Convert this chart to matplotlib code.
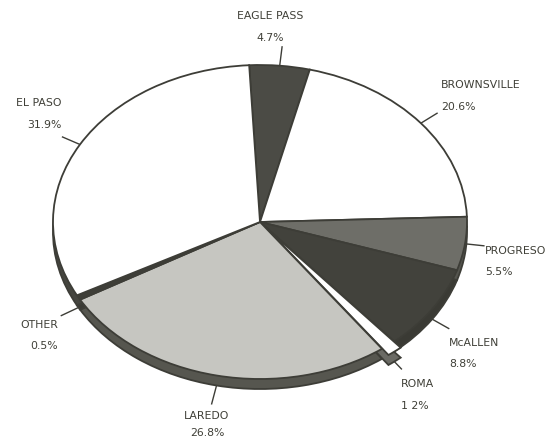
import numpy as np
import matplotlib
matplotlib.use("Agg")
import matplotlib.pyplot as plt

ports = ["EAGLE PASS", "BROWNSVILLE", "PROGRESO", "McALLEN", "ROMA",
         "LAREDO", "OTHER", "EL PASO"]
shares = [4.7, 20.6, 5.5, 8.8, 1.2, 26.8, 0.5, 31.9]
pct_labels = ["4.7%", "20.6%", "5.5%", "8.8%", "1 2%", "26.8%", "0.5%", "31.9%"]

top_colors = ["#4b4b45", "#ffffff", "#6e6e68", "#42423c", "#ffffff",
              "#c6c6c1", "#3e3e38", "#ffffff"]
side_colors = ["#3e3e38", "#4a4a44", "#55554f", "#3a3a34", "#6a6a64",
               "#56564f", "#3a3a34", "#45453f"]
explode = [0, 0, 0, 0, 0.05, 0, 0, 0]

# label layout in figure pixels (x, y name, y pct, alignment)
label_pos = {
    "EAGLE PASS": (270, 16, 38, "center"),
    "BROWNSVILLE": (441, 85, 107, "left"),
    "PROGRESO": (485, 251, 272, "left"),
    "McALLEN": (449, 343, 364, "left"),
    "ROMA": (401, 384, 406, "left"),
    "LAREDO": (207, 416, 433, "center"),
    "OTHER": (58, 325, 346, "right"),
    "EL PASO": (62, 103, 125, "right"),
}

W, H = 554, 440
cx, cy, rx, ry = 260, 222, 207, 157
depth = 10 / ry
edge = "#3d3d37"
txt = "#3f3f37"

fig = plt.figure(figsize=(W / 100, H / 100), dpi=100)
ov = fig.add_axes([0, 0, 1, 1])
ov.set_xlim(0, W)
ov.set_ylim(H, 0)
ov.axis("off")

ax = fig.add_axes([(cx - rx) / W, (H - cy - ry) / H, 2 * rx / W, 2 * ry / H])

start = 93
# side of the pie (shifted copy)
ax.pie(shares, colors=side_colors, startangle=start, counterclock=False,
       explode=explode, center=(0, -depth), frame=False,
       wedgeprops=dict(edgecolor=edge, linewidth=1.3))
wedges, _ = ax.pie(shares, colors=top_colors, startangle=start, counterclock=False,
                   explode=explode, center=(0, 0), frame=False,
                   wedgeprops=dict(edgecolor=edge, linewidth=1.3))
ax.set_xlim(-1, 1)
ax.set_ylim(-1, 1)
ax.set_aspect("auto")
ax.axis("off")

to_px = ax.transData + ov.transData.inverted()
for w, name, pct in zip(wedges, ports, pct_labels):
    mid = np.deg2rad((w.theta1 + w.theta2) / 2)
    c, s = np.cos(mid), np.sin(mid)
    y = s - depth if s < -0.2 else s
    x0, y0 = to_px.transform((c, y))
    d = np.array([x0 - cx, y0 - cy])
    d = d / np.hypot(*d)
    x1, y1 = x0 + 19 * d[0], y0 + 19 * d[1]
    ov.plot([x0, x1], [y0, y1], color=edge, lw=1.0)
    lx, ly1, ly2, ha = label_pos[name]
    ov.text(lx, ly1, name, ha=ha, va="center", fontsize=7.8, color=txt)
    ov.text(lx, ly2, pct, ha=ha, va="center", fontsize=7.8, color=txt)

fig.savefig("out.png", dpi=100)
